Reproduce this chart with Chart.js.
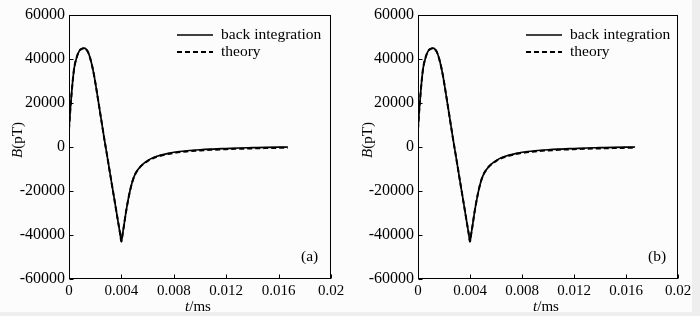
<!DOCTYPE html>
<html>
<head>
<meta charset="utf-8">
<script src="https://cdn.jsdelivr.net/npm/chart.js@4.4.0/dist/chart.umd.min.js"></script>
<style>
  body { margin: 0; background: #eeeeee; }
  #page { position: relative; width: 692px; height: 312px; background: #fcfcfc; overflow: visible; }
  .panel { position: absolute; top: 0; width: 350px; height: 316px; }
</style>
</head>
<body>
<div id="page">
  <div class="panel" style="left:0"><canvas id="chartA" width="350" height="316"></canvas></div>
  <div class="panel" style="left:350px"><canvas id="chartB" width="350" height="316"></canvas></div>
</div>
<script>
// ---- DATA ----
var tMs = [0, 0.0001, 0.0002, 0.0003, 0.0004, 0.0006, 0.0008, 0.001, 0.00115, 0.0013,
           0.0015, 0.0017, 0.0019, 0.0021, 0.0023, 0.0025, 0.0027, 0.0029, 0.0031, 0.0033,
           0.0035, 0.0037, 0.0039, 0.004, 0.0041, 0.0042, 0.0043, 0.0044, 0.0046, 0.0048,
           0.005, 0.0053, 0.0056, 0.006, 0.0065, 0.007, 0.0075, 0.008, 0.009, 0.010,
           0.011, 0.012, 0.013, 0.014, 0.015, 0.016, 0.0167];

var backIntegration = [8000, 17000, 24500, 31000, 36000, 41000, 43800, 44700, 44900, 44500,
           42500, 38500, 33000, 26000, 18500, 11000, 3500, -3600, -10800, -18000,
           -25100, -32300, -39400, -43000, -39300, -35500, -31500, -27800, -21500, -16500,
           -13000, -10000, -8000, -6200, -4700, -3700, -3000, -2400, -1700, -1250,
           -950, -700, -450, -300, -150, -50, 0];

var theory = [8000, 17000, 24500, 31000, 36000, 41000, 43800, 44700, 44900, 44500,
           42500, 38500, 33000, 26000, 18500, 11000, 3500, -3600, -10800, -18000,
           -25100, -32300, -39400, -43000, -39300, -35500, -31500, -27800, -21500, -16500,
           -13000, -10000, -8100, -6400, -4900, -3950, -3250, -2700, -2000, -1550,
           -1250, -1000, -800, -650, -500, -380, -300];

var xTicks = [0, 0.004, 0.008, 0.012, 0.016, 0.02];
var yTicks = [-60000, -40000, -20000, 0, 20000, 40000, 60000];
var seriesNames = ['back integration', 'theory'];

var FONT = "'Liberation Serif', 'DejaVu Serif', serif";

function toPoints(xs, ys){
  return xs.map(function(x, i){ return {x: x, y: ys[i]}; });
}

// frame, inward ticks, legend, axis titles, panel tag
var decoPlugin = {
  id: 'deco',
  afterDraw: function(chart, args, opts){
    var ctx = chart.ctx, a = chart.chartArea;
    var xs = chart.scales.x, ys = chart.scales.y;
    var L = Math.round(a.left) + 0.5, R = Math.round(a.right) - 0.5;
    var T = Math.round(a.top) + 0.5, B = Math.round(a.bottom) - 0.5;
    ctx.save();
    ctx.strokeStyle = '#000';
    ctx.lineWidth = 1;
    ctx.setLineDash([]);
    ctx.strokeRect(L, T, R - L, B - T);

    // ticks pointing inside
    ctx.beginPath();
    xTicks.forEach(function(v){
      var px = Math.round(xs.getPixelForValue(v)) + 0.5;
      ctx.moveTo(px, B); ctx.lineTo(px, B - 4);
    });
    yTicks.forEach(function(v){
      var py = Math.round(ys.getPixelForValue(v)) + 0.5;
      ctx.moveTo(L, py); ctx.lineTo(L + 4, py);
    });
    ctx.stroke();

    // legend
    ctx.font = '15.5px ' + FONT;
    ctx.fillStyle = '#000';
    ctx.textBaseline = 'middle';
    chart.data.datasets.forEach(function(ds, i){
      var ly = 35 + i * 17;
      ctx.beginPath();
      ctx.lineWidth = ds.borderWidth;
      ctx.setLineDash(ds.borderDash || []);
      ctx.moveTo(a.left + 108, ly); ctx.lineTo(a.left + 144, ly);
      ctx.stroke();
      ctx.fillText(ds.label, a.left + 152, ly);
    });
    ctx.setLineDash([]);

    // panel tag
    ctx.textAlign = 'left';
    ctx.fillText(opts.tag, a.right - 30, 257);

    // x title: t/ms
    ctx.textBaseline = 'alphabetic';
    var cx = (a.left + a.right) / 2;
    ctx.font = 'italic 15px ' + FONT;
    var w1 = ctx.measureText('t').width;
    ctx.font = '15px ' + FONT;
    var w2 = ctx.measureText('/ms').width;
    var sx = cx - (w1 + w2) / 2 - 2;
    ctx.font = 'italic 15px ' + FONT;
    ctx.fillText('t', sx, 311);
    ctx.font = '15px ' + FONT;
    ctx.fillText('/ms', sx + w1, 311);

    // y title: B(pT)
    ctx.translate(22, 140);
    ctx.rotate(-Math.PI / 2);
    ctx.font = 'italic 15px ' + FONT;
    var b1 = ctx.measureText('B').width;
    ctx.font = '15px ' + FONT;
    var b2 = ctx.measureText('(pT)').width;
    var sy = -(b1 + b2) / 2;
    ctx.font = 'italic 15px ' + FONT;
    ctx.fillText('B', sy, 0);
    ctx.font = '15px ' + FONT;
    ctx.fillText('(pT)', sy + b1, 0);
    ctx.restore();
  }
};

function makeChart(canvasId, tag, yWidth, padRight){
  var ctx = document.getElementById(canvasId).getContext('2d');
  return new Chart(ctx, {
    type: 'line',
    data: {
      datasets: [{
        label: seriesNames[0],
        data: toPoints(tMs, backIntegration),
        borderColor: '#000',
        borderWidth: 1.7,
        pointRadius: 0,
        cubicInterpolationMode: 'monotone',
        fill: false
      }, {
        label: seriesNames[1],
        data: toPoints(tMs, theory),
        borderColor: '#000',
        borderWidth: 2,
        borderDash: [5, 3],
        pointRadius: 0,
        cubicInterpolationMode: 'monotone',
        fill: false
      }]
    },
    options: {
      responsive: false,
      animation: false,
      events: [],
      layout: { padding: { top: 15, right: padRight, left: 0, bottom: 0 } },
      plugins: {
        legend: { display: false },
        tooltip: { enabled: false },
        deco: { tag: tag }
      },
      scales: {
        x: {
          type: 'linear',
          min: 0, max: 0.02,
          afterBuildTicks: function(scale){ scale.ticks = xTicks.map(function(v){ return {value: v}; }); },
          afterFit: function(scale){ scale.height = 37; },
          grid: { display: false, drawTicks: false },
          border: { display: false },
          ticks: {
            color: '#000',
            font: { family: FONT, size: 15 },
            padding: 3,
            maxRotation: 0,
            callback: function(v){ return String(+v.toFixed(3)); }
          }
        },
        y: {
          min: -60000, max: 60000,
          afterBuildTicks: function(scale){ scale.ticks = yTicks.map(function(v){ return {value: v}; }); },
          afterFit: function(scale){ scale.width = yWidth; },
          grid: { display: false, drawTicks: false },
          border: { display: false },
          ticks: {
            color: '#000',
            font: { family: FONT, size: 16 },
            padding: 4,
            callback: function(v){ return String(v); }
          }
        }
      }
    },
    plugins: [decoPlugin]
  });
}

makeChart('chartA', '(a)', 69, 19);
makeChart('chartB', '(b)', 68, 22);
</script>
</body>
</html>
